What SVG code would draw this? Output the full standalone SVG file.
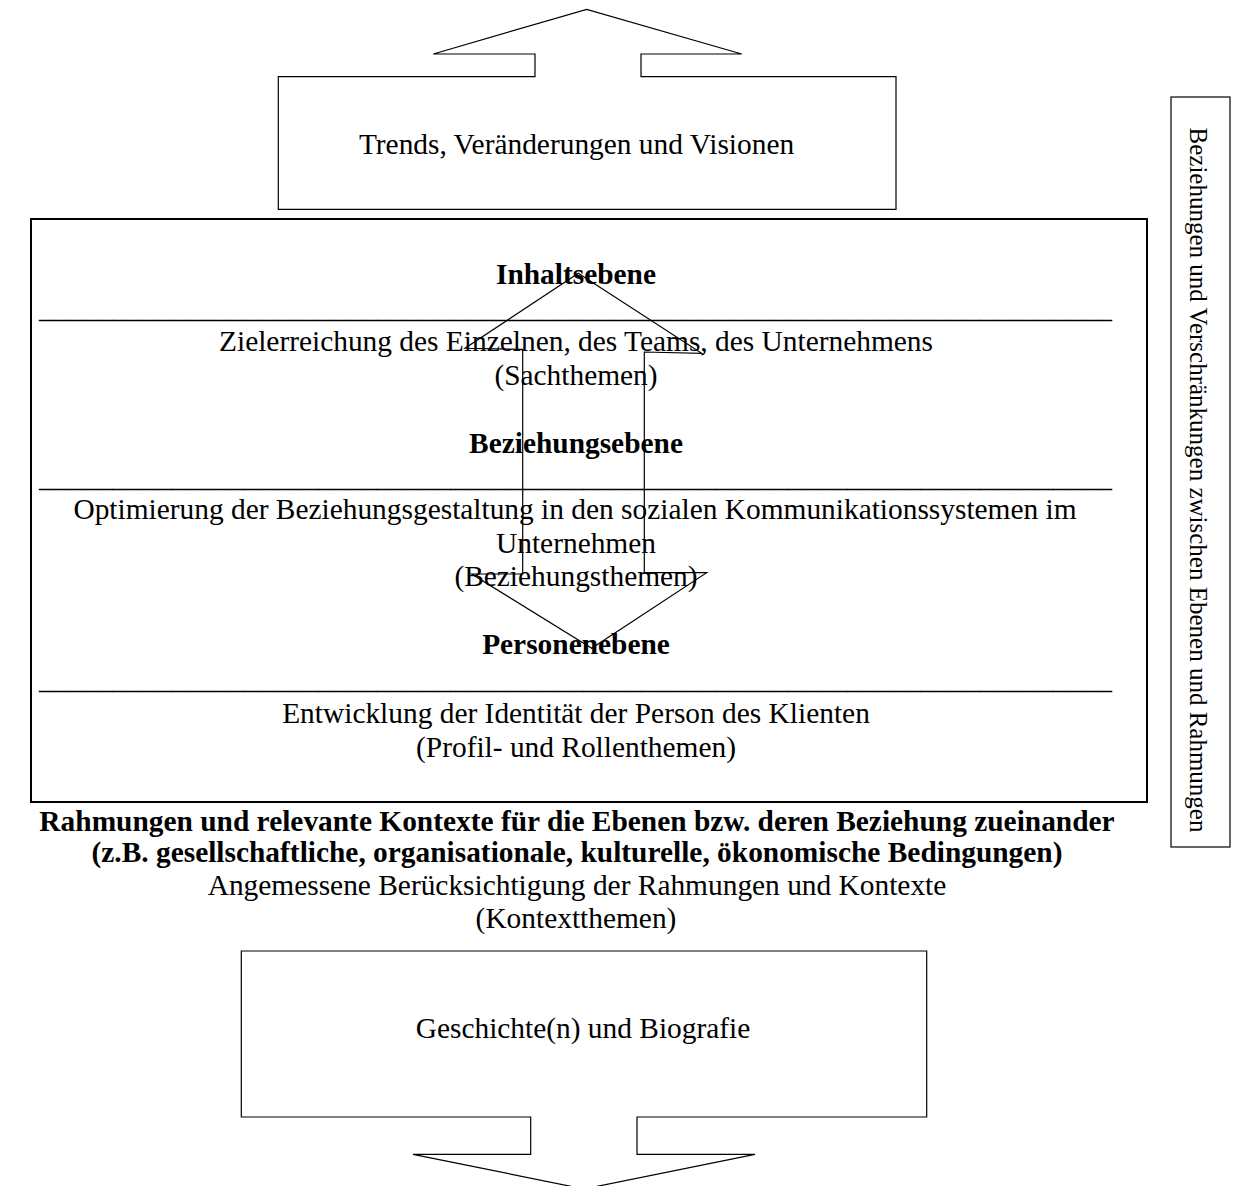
<svg xmlns="http://www.w3.org/2000/svg" width="1237" height="1186" viewBox="0 0 1237 1186">
<style>
text{font-family:"Liberation Serif","Times New Roman",serif;font-size:29.4px;fill:#000}
.b{font-weight:bold}
.c{text-anchor:middle}
.shape{fill:none;stroke:#000;stroke-width:1.2}
.main{fill:none;stroke:#000;stroke-width:2}
</style>
<rect width="1237" height="1186" fill="#fff"/>
<g id="node-trends">
<path class="shape" d="M278.3,76.7 H535 V54 H433.3 L586.7,9.3 L741.7,54 H641 V76.7 H896 V209.3 H278.3 Z"/>
<text class="c" x="576.5" y="154">Trends, Veränderungen und Visionen</text>
</g>
<g id="node-main">
<rect class="main" x="31" y="219" width="1116" height="583"/>
<text class="c b" x="576" y="284">Inhaltsebene</text>
<text class="c" x="575.5" y="318">_________________________________________________________________________</text>
<text class="c" x="576" y="351">Zielerreichung des Einzelnen, des Teams, des Unternehmens</text>
<text class="c" x="576" y="384.5">(Sachthemen)</text>
<text class="c b" x="576" y="453">Beziehungsebene</text>
<text class="c" x="575.5" y="487">_________________________________________________________________________</text>
<text class="c" x="575" y="519">Optimierung der Beziehungsgestaltung in den sozialen Kommunikationssystemen im</text>
<text class="c" x="576" y="552.5">Unternehmen</text>
<text class="c" x="576" y="586">(Beziehungsthemen)</text>
<text class="c b" x="576" y="654">Personenebene</text>
<text class="c" x="575.5" y="689">_________________________________________________________________________</text>
<text class="c" x="576" y="723">Entwicklung der Identität der Person des Klienten</text>
<text class="c" x="576" y="756.5">(Profil- und Rollenthemen)</text>
</g>
<g id="node-kontext">
<text class="c b" x="577" y="831">Rahmungen und relevante Kontexte für die Ebenen bzw. deren Beziehung zueinander</text>
<text class="c b" x="577" y="862">(z.B. gesellschaftliche, organisationale, kulturelle, ökonomische Bedingungen)</text>
<text class="c" x="577" y="895">Angemessene Berücksichtigung der Rahmungen und Kontexte</text>
<text class="c" x="576" y="928">(Kontextthemen)</text>
</g>
<g id="node-geschichte">
<path class="shape" d="M241.3,951 H926.7 V1117 H637 V1154.3 H755 L584,1189 L413,1154.3 H530.7 V1117 H241.3 Z"/>
<text class="c" x="583" y="1038">Geschichte(n) und Biografie</text>
</g>
<g id="node-beziehungen">
<rect class="shape" x="1171" y="97" width="59" height="750"/>
<text class="c" transform="translate(1190,480) rotate(90)" x="0" y="0" style="font-size:25px">Beziehungen und Verschränkungen zwischen Ebenen und Rahmungen</text>
</g>
<g id="connectors">
<path class="shape" d="M578.3,273.3 L701.7,353.3 L644.3,352 V572.7 L706.7,572.7 L591.7,648.3 L471.7,574 L522.7,574 V349.3 L465,348.3 Z"/>
</g>
</svg>
